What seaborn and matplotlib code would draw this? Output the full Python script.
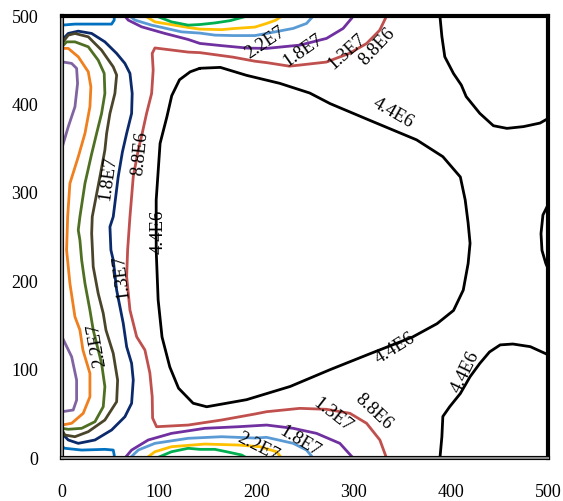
import matplotlib
matplotlib.use("Agg")
import matplotlib.pyplot as plt
import matplotlib.patheffects as pe
import seaborn as sns

sns.set_theme(style="white")
plt.rcParams['font.family'] = ['Liberation Serif', 'DejaVu Serif']

# ---- axis ticks ----
x_ticks = [0, 100, 200, 300, 400, 500]
y_ticks = [0, 100, 200, 300, 400, 500]

# ---- contour lines (data units) ----
# 4.4E6 (black)
black_loop_x = [142, 163, 190, 224, 255, 276, 317, 365, 392, 410, 415, 418, 420, 418, 413, 403, 386, 361, 317, 276,
                235, 190, 149, 135, 120, 111, 103, 99, 97, 97, 101, 108, 113, 121, 132, 142]
black_loop_y = [441, 442, 433, 424, 413, 401, 382, 360, 341, 318, 292, 266, 243, 220, 190, 167, 152, 137, 118, 100,
                81, 66, 58, 62, 79, 103, 137, 179, 235, 292, 356, 386, 410, 428, 437, 441]
black_tr_x = [389, 391, 394, 403, 411, 416, 430, 444, 458, 475, 492, 500]
black_tr_y = [500, 477, 454, 435, 422, 409, 390, 376, 373, 375, 379, 384]
black_r_x = [500, 495, 493, 494, 498, 500]
black_r_y = [286, 275, 254, 235, 220, 215]
black_br_x = [389, 391, 392, 399, 410, 420, 430, 440, 451, 464, 482, 500]
black_br_y = [0, 24, 47, 58, 73, 92, 107, 120, 128, 129, 126, 117]

# 8.8E6 (red)
red_x = [334, 327, 313.5, 296, 272, 244.5, 234, 210.6, 198.6, 176, 142, 130, 95.7, 92.9, 93.9, 92.3, 87.1, 82.6,
         78.5, 73.4, 70, 67.6, 66.6, 70, 76.9, 85.4, 90.5, 92.9, 93.3, 97.4, 129.9, 164.3, 198.6, 210.6, 244.9,
         272.3, 296.3, 313.5, 327.2, 334]
red_y = [500, 484, 469, 458, 448, 444.6, 443.4, 447.4, 449, 453.6, 458.7, 459.3, 464, 457.8, 438.9, 412.5, 389.9,
         367.3, 348.4, 318.2, 273, 235.3, 205.1, 167.4, 137.2, 122.2, 96.2, 69.3, 45.2, 35.4, 37.3, 43, 49.8,
         52.4, 56.2, 55.1, 50.6, 39.3, 20.4, 0]

# navy (left)
navy_x = [0, 6.5, 16.8, 30.6, 44.2, 56.3, 64.8, 70, 72.3, 71.7, 66.6, 62.2, 57.9, 52.8, 49.4, 50.4, 52.8, 56.3,
          63.1, 66.6, 71.7, 73.4, 71.7, 64.8, 51.1, 34, 16.8, 6.5, 0]
navy_y = [472.8, 480.4, 483, 480.4, 470.9, 457.8, 446.5, 435.2, 412.6, 389.9, 367.3, 346.1, 318.2, 273, 261.6,
          235.3, 224, 190, 152.4, 125.9, 107.1, 88.2, 61.9, 46.7, 31.7, 20.4, 16.6, 20.4, 27.9]

# dark olive (left)
dolive_x = [0, 6.5, 13.4, 27.1, 40.8, 52.8, 56.3, 54.5, 49.4, 46, 44.2, 39.1, 31.2, 30.6, 32.2, 37.3, 42.5, 45.3,
            52.8, 57.3, 56.3, 44.2, 27.1, 13.4, 3.1, 0]
dolive_y = [469.1, 478.5, 480.4, 476.6, 461.5, 442.6, 433.3, 412.5, 389.9, 367.3, 348.4, 318.2, 273, 254.2, 216.4,
            186.3, 163.7, 144.8, 118.4, 88.2, 63.7, 43, 29.8, 24.1, 26, 31.7]

# olive green (left)
ogreen_x = [0, 4.8, 13.4, 27.1, 37.3, 43.5, 44.2, 40.8, 35.7, 30.3, 23.7, 18.5, 16.8, 18.5, 20.3, 23.7, 28.8, 32.2,
            40.8, 44.2, 42.5, 34, 20.3, 6.5, 0]
ogreen_y = [465.3, 470.9, 470.9, 465.3, 450.2, 435.2, 412.5, 389.9, 367.3, 342.8, 310.7, 273, 257.9, 246.6, 224,
            197.6, 167.4, 144.8, 107.1, 80.7, 58, 41.1, 33.6, 32.5, 33.6]

# orange (left)
orange_x = [0, 6.5, 16.8, 27.1, 29.8, 28.8, 23.7, 16.8, 8.2, 5.9, 4.8, 8.2, 13.4, 18.5, 21.6, 28.8, 28.8, 21.9, 10, 0]
orange_y = [463.5, 463.5, 454, 437, 420, 397.4, 367.3, 340.8, 310.7, 273, 235.3, 197.6, 159.8, 144.8, 122.2, 95.8,
            69.3, 50.6, 39.3, 37.3]

# lavender (left corners)
lav_top_x = [0, 10, 15.1, 16.1, 13.4, 6.5, 0]
lav_top_y = [448.3, 446.5, 440.9, 423.9, 397.4, 374.8, 350.6]
lav_bot_x = [0, 10, 15.1, 15.1, 11.6, 0]
lav_bot_y = [137.2, 114.6, 88.2, 65.6, 54.3, 52.4]

# blue (corner pieces)
blue_top_x = [0, 13.4, 34, 51.1, 53.8, 53.8]
blue_top_y = [489.8, 491, 491, 491, 495.5, 500]
blue_bot_x = [0, 3.1, 20.3, 44.2, 52.8, 53.8, 53.8]
blue_bot_y = [12.8, 11, 9, 9.8, 9, 3.4, 0]

# purple (top / bottom)
purple_top_x = [64.8, 68.2, 82, 106, 129.9, 142, 164.3, 191.4, 210.6, 244.9, 272.3, 289.4, 298, 299.7]
purple_top_y = [500, 495.5, 487.9, 480.4, 473.6, 469.1, 466.6, 463.8, 463.5, 467.2, 474.8, 486.1, 497.4, 500]
purple_bot_x = [64.8, 71.7, 88.8, 112.8, 147.1, 181.4, 210.6, 238, 262, 286, 299.7]
purple_bot_y = [0, 9, 20.4, 27.9, 33.6, 35.4, 37.3, 33.6, 27.9, 16.6, 0]

# light blue (top / bottom)
lblue_top_x = [70, 75.1, 92.3, 123.1, 142, 157.4, 176.2, 198.6, 210.6, 238, 251.7, 258.5]
lblue_top_y = [500, 495.5, 489.8, 482.2, 480.8, 478.5, 478, 478, 480.4, 486.1, 491.7, 500]
lblue_bot_x = [70, 78.5, 95.7, 129.9, 164.3, 198.6, 210.6, 238, 251.7, 258.5]
lblue_bot_y = [0, 9, 16.6, 22.3, 24.1, 22.6, 23.4, 16.6, 9, 0]

# yellow (top / bottom)
yellow_top_x = [86.1, 95.7, 129.9, 142, 164.3, 176.2, 198.6, 210.6, 220.2, 226]
yellow_top_y = [500, 493.5, 487.2, 485.3, 484.7, 485.9, 487.6, 491.7, 495.5, 500]
yellow_bot_x = [87.1, 95.7, 112.8, 147.1, 181.4, 203.7, 220.9, 226]
yellow_bot_y = [0, 7.1, 12.8, 15.8, 14.7, 12.8, 7.1, 0]

# green (top / bottom)
green_top_x = [97.4, 112.8, 129.9, 142, 157.4, 173.2, 190.3]
green_top_y = [500, 493.5, 489.8, 490.5, 492.3, 494.9, 500]
green_bot_x = [97.4, 112.8, 129.9, 142, 157.4, 169.4, 184.9, 190.3]
green_bot_y = [0, 7.1, 11, 9.8, 9.8, 7.1, 3.4, 0]

# ---- contour labels ----
label_text = ["2.2E7", "1.8E7", "1.3E7", "8.8E6", "4.4E6",
              "8.8E6", "1.8E7", "1.3E7", "2.2E7", "4.4E6",
              "4.4E6", "4.4E6", "8.8E6", "1.3E7", "1.8E7", "2.2E7"]
label_x = [208.8, 248.2, 292.9, 323.8, 340.8,
           80.2, 47.6, 61.4, 35.7, 99.1,
           342.6, 414.6, 320.3, 279.1, 244.9, 202]
label_y = [469.5, 461.5, 459.6, 465.3, 389.9,
           344.7, 316.4, 205.1, 127.8, 256,
           124.1, 97.6, 52.4, 48.6, 18.4, 12.8]
label_rot = [34, 35, 42, 47, -30,
             84, 82, 97, 100, 90,
             32, 64, -43, -38, -31, -27]

lines = [
    (black_loop_x, black_loop_y, "#000000"),
    (black_tr_x, black_tr_y, "#000000"),
    (black_r_x, black_r_y, "#000000"),
    (black_br_x, black_br_y, "#000000"),
    (red_x, red_y, "#c0504d"),
    (navy_x, navy_y, "#0b2a6b"),
    (dolive_x, dolive_y, "#4a452a"),
    (ogreen_x, ogreen_y, "#4f6f23"),
    (orange_x, orange_y, "#f07f1e"),
    (lav_top_x, lav_top_y, "#8064a2"),
    (lav_bot_x, lav_bot_y, "#8064a2"),
    (blue_top_x, blue_top_y, "#0070c0"),
    (blue_bot_x, blue_bot_y, "#0070c0"),
    (purple_top_x, purple_top_y, "#7030a0"),
    (purple_bot_x, purple_bot_y, "#7030a0"),
    (lblue_top_x, lblue_top_y, "#5b9bd5"),
    (lblue_bot_x, lblue_bot_y, "#5b9bd5"),
    (yellow_top_x, yellow_top_y, "#ffc000"),
    (yellow_bot_x, yellow_bot_y, "#ffc000"),
    (green_top_x, green_top_y, "#00b050"),
    (green_bot_x, green_bot_y, "#00b050"),
]

fig = plt.figure(figsize=(5.63, 5.01), dpi=100)
ax = fig.add_axes([0.110, 0.0858, 0.863, 0.882])

for lx, ly, col in lines:
    sns.lineplot(x=lx, y=ly, sort=False, estimator=None, color=col, lw=2.0,
                 ax=ax, legend=False)

for t, tx, ty, r in zip(label_text, label_x, label_y, label_rot):
    ax.text(tx, ty, t, rotation=r, ha="center", va="center",
            rotation_mode="anchor", fontsize=13.5, color="black")

ax.set_xlim(0, 500)
ax.set_ylim(0, 500)
ax.set_xticks(x_ticks)
ax.set_yticks(y_ticks)
ax.set_xticklabels([str(v) for v in x_ticks])
ax.set_yticklabels([str(v) for v in y_ticks])
ax.tick_params(axis="x", length=0, pad=19, labelsize=13, colors="black")
ax.tick_params(axis="y", length=0, pad=17, labelsize=13, colors="black")
ax.set_xlabel("")
ax.set_ylabel("")
ax.grid(False)

for side in ["top", "right"]:
    ax.spines[side].set_color("black")
    ax.spines[side].set_linewidth(3.0)
for side in ["left", "bottom"]:
    ax.spines[side].set_color("#8c8c8c")
    ax.spines[side].set_linewidth(1.5)
    ax.spines[side].set_path_effects([pe.Stroke(linewidth=3.0, foreground="black"), pe.Normal()])
for s in ax.spines.values():
    s.set_visible(True)
    s.set_zorder(5)

fig.savefig("out.png", dpi=100)
